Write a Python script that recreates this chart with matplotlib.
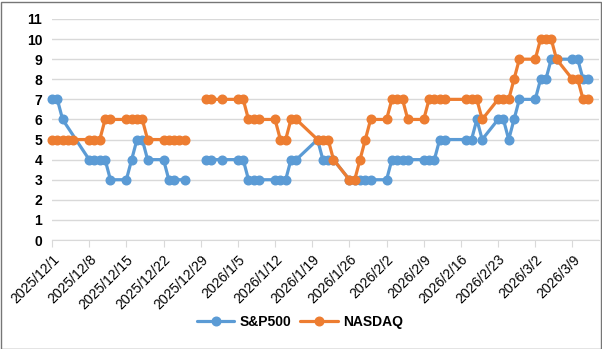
import datetime as dt
import numpy as np
import matplotlib.pyplot as plt
import matplotlib.dates as mdates

plt.rcParams['font.family'] = ['Liberation Sans', 'DejaVu Sans']

# trading days; None = no reading (line joins across), nan = blank row (line breaks)
dates = [
    '2025-12-01', '2025-12-02', '2025-12-03', '2025-12-04', '2025-12-05',
    '2025-12-08', '2025-12-09', '2025-12-10', '2025-12-11', '2025-12-12',
    '2025-12-15', '2025-12-16', '2025-12-17', '2025-12-18', '2025-12-19',
    '2025-12-22', '2025-12-23', '2025-12-24', '2025-12-25', '2025-12-26',
    '2025-12-29', '2025-12-30', '2025-12-31', '2026-01-02',
    '2026-01-05', '2026-01-06', '2026-01-07', '2026-01-08', '2026-01-09',
    '2026-01-12', '2026-01-13', '2026-01-14', '2026-01-15', '2026-01-16',
    '2026-01-20', '2026-01-21', '2026-01-22', '2026-01-23',
    '2026-01-26', '2026-01-27', '2026-01-28', '2026-01-29', '2026-01-30',
    '2026-02-02', '2026-02-03', '2026-02-04', '2026-02-05', '2026-02-06',
    '2026-02-09', '2026-02-10', '2026-02-11', '2026-02-12', '2026-02-13',
    '2026-02-17', '2026-02-18', '2026-02-19', '2026-02-20',
    '2026-02-23', '2026-02-24', '2026-02-25', '2026-02-26', '2026-02-27',
    '2026-03-02', '2026-03-03', '2026-03-04', '2026-03-05', '2026-03-06',
    '2026-03-09', '2026-03-10', '2026-03-11', '2026-03-12',
]

nan = float('nan')

sp500 = [
    7, 7, 6, None, None,
    4, 4, 4, 4, 3,
    3, 4, 5, 5, 4,
    4, 3, 3, None, 3,
    nan, 4, 4, 4,
    4, 4, 3, 3, 3,
    3, 3, 3, 4, 4,
    5, 4, 4, 4,
    3, 3, 3, 3, 3,
    3, 4, 4, 4, 4,
    4, 4, 4, 5, 5,
    5, 5, 6, 5,
    6, 6, 5, 6, 7,
    7, 8, 8, 9, 9,
    9, 9, 8, 8,
]

nasdaq = [
    5, 5, 5, 5, 5,
    5, 5, 5, 6, 6,
    6, 6, 6, 6, 5,
    5, 5, 5, 5, 5,
    nan, 7, 7, 7,
    7, 7, 6, 6, 6,
    6, 5, 5, 6, 6,
    5, 5, 5, 4,
    3, 3, 4, 5, 6,
    6, 7, 7, 7, 6,
    6, 7, 7, 7, 7,
    7, 7, 7, 6,
    7, 7, 7, 8, 9,
    9, 10, 10, 10, 9,
    8, 8, 7, 7,
]

tick_dates = ['2025-12-01', '2025-12-08', '2025-12-15', '2025-12-22', '2025-12-29',
              '2026-01-05', '2026-01-12', '2026-01-19', '2026-01-26',
              '2026-02-02', '2026-02-09', '2026-02-16', '2026-02-23',
              '2026-03-02', '2026-03-09']


def to_date(s):
    return dt.datetime.strptime(s, '%Y-%m-%d')


def series(values):
    xs = [to_date(d) for d, v in zip(dates, values) if v is not None]
    ys = [v for v in values if v is not None]
    return xs, ys


fig = plt.figure(figsize=(6.02, 3.49), dpi=100)
ax = fig.add_axes([52 / 602, 1 - 240 / 349, 547 / 602, 221 / 349])

for vals, name, col in [(sp500, 'S&P500', '#5B9BD5'), (nasdaq, 'NASDAQ', '#ED7D31')]:
    x, y = series(vals)
    ax.plot(x, y, color=col, lw=2.3, marker='o', ms=6.2, label=name,
            solid_capstyle='round', solid_joinstyle='round', clip_on=False)

ax.set_ylim(0, 11)
ax.set_yticks(range(12))
ax.set_xlim(to_date('2025-12-01'), to_date('2025-12-01') + dt.timedelta(days=103))

ticks = [to_date(d) for d in tick_dates]
ax.set_xticks(ticks)
ax.set_xticklabels([f'{d.year}/{d.month}/{d.day}' for d in ticks],
                   rotation=45, ha='right', va='top', rotation_mode='anchor',
                   fontsize=10)
for lab in ax.get_yticklabels():
    lab.set_fontweight('bold')
    lab.set_fontsize(10)

ax.grid(axis='y', color='#D9D9D9', lw=1)
ax.set_axisbelow(True)
for s in ['top', 'right', 'left']:
    ax.spines[s].set_visible(False)
ax.spines['bottom'].set_color('#D9D9D9')
ax.tick_params(axis='x', length=5, color='#D9D9D9', pad=4)
ax.tick_params(axis='y', length=0, pad=7)

fig.legend(loc='center', bbox_to_anchor=(300 / 602, 1 - 322 / 349), ncol=2, frameon=False,
           prop={'weight': 'bold', 'size': 10}, handlelength=2.7,
           handletextpad=0.4, columnspacing=0.6)

# outer chart border
fig.patches.append(plt.Rectangle((0.5 / 602, 0.5 / 349), 600 / 602, 347 / 349,
                                 transform=fig.transFigure, fill=False,
                                 edgecolor='#767676', lw=1))

fig.savefig('out.png', dpi=100)
